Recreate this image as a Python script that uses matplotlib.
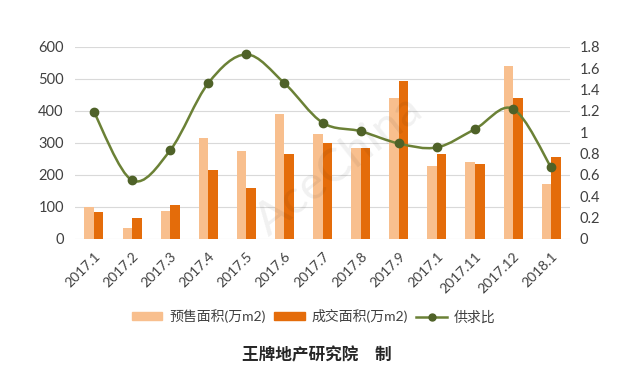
import matplotlib
matplotlib.use("Agg")
import matplotlib.pyplot as plt
import numpy as np
from matplotlib.path import Path
from matplotlib.patches import PathPatch
from matplotlib.lines import Line2D
from matplotlib.patches import Patch

plt.rcParams['font.family'] = ['Lato', 'Noto Sans CJK SC', 'DejaVu Sans']

categories = ["2017.1", "2017.2", "2017.3", "2017.4", "2017.5", "2017.6", "2017.7",
              "2017.8", "2017.9", "2017.1", "2017.11", "2017.12", "2018.1"]
presale = [100, 34, 87, 314, 275, 390, 328, 285, 440, 229, 240, 540, 172]
deal = [84, 64, 107, 215, 158, 266, 300, 283, 493, 266, 233, 441, 257]
ratio = [1.19, 0.55, 0.83, 1.46, 1.73, 1.46, 1.09, 1.01, 0.895, 0.858, 1.03, 1.22, 0.67]

c_pre = "#F8BF8E"
c_deal = "#E46C0A"
c_line = "#6B8136"
c_mark = "#4F6228"

fig = plt.figure(figsize=(6.4, 3.67), dpi=100)
ax = fig.add_axes([0.117, 0.349, 0.774, 0.523])
ax2 = ax.twinx()

x = np.arange(len(categories))
w = 0.25
ax.bar(x - w / 2, presale, width=w, color=c_pre, zorder=2)
ax.bar(x + w / 2, deal, width=w, color=c_deal, zorder=2)

ax.set_ylim(0, 600)
ax.set_yticks(np.arange(0, 601, 100))
ax.set_xlim(-0.5, len(categories) - 0.5)
ax.grid(axis='y', color='#D9D9D9', linewidth=0.8, zorder=0)
ax.set_axisbelow(True)
for s in ax.spines.values():
    s.set_visible(False)
for s in ax2.spines.values():
    s.set_visible(False)
ax.tick_params(axis='y', length=0, labelsize=10.5, colors='#404040', pad=8)
ax.tick_params(axis='x', length=0, colors='#404040', pad=8)
ax.set_xticks(x)
ax.set_xticklabels(categories, rotation=45, ha='right', rotation_mode='anchor', fontsize=10)

ax2.set_ylim(0, 1.8)
ax2.set_yticks([0, 0.2, 0.4, 0.6, 0.8, 1, 1.2, 1.4, 1.6, 1.8])
ax2.set_yticklabels(["0", "0.2", "0.4", "0.6", "0.8", "1", "1.2", "1.4", "1.6", "1.8"])
ax2.tick_params(axis='y', length=0, labelsize=10.5, colors='#404040', pad=7)

# smoothed line (Catmull-Rom style Bezier, like a spreadsheet smoothed line)
pts = np.column_stack([x, ratio]).astype(float)
verts = [tuple(pts[0])]
codes = [Path.MOVETO]
n = len(pts)
t = 1 / 6
for i in range(n - 1):
    p0 = pts[i - 1] if i > 0 else pts[i]
    p1 = pts[i]
    p2 = pts[i + 1]
    p3 = pts[i + 2] if i + 2 < n else pts[i + 1]
    c1 = p1 + (p2 - p0) * t
    c2 = p2 - (p3 - p1) * t
    verts += [tuple(c1), tuple(c2), tuple(p2)]
    codes += [Path.CURVE4] * 3
ax2.add_patch(PathPatch(Path(verts, codes), facecolor='none', edgecolor=c_line, linewidth=1.8, zorder=3))
ax2.plot(x, ratio, linestyle='none', marker='o', markersize=6, color=c_mark, zorder=4)

# watermark
fig.text(0.53, 0.55, "AceChina", fontsize=34, color='#000000', alpha=0.06,
         rotation=38, ha='center', va='center')

handles = [Patch(color=c_pre), Patch(color=c_deal),
           Line2D([0], [0], color=c_line, marker='o', markersize=5,
                  markerfacecolor=c_mark, markeredgecolor=c_mark, linewidth=1.8)]
labels = ["预售面积(万m2)", "成交面积(万m2)", "供求比"]
fig.legend(handles, labels, loc='center', bbox_to_anchor=(0.49, 0.138), ncol=3, frameon=False,
           fontsize=10, handlelength=2.2, handleheight=0.5, columnspacing=0.6, handletextpad=0.5,
           labelcolor='#404040')

fig.text(0.495, 0.032, "王牌地产研究院\u3000制", fontsize=12, fontweight='bold', color='#262626',
         ha='center', va='center', family=['Noto Sans CJK SC', 'DejaVu Sans'])

fig.savefig("out.png", dpi=100)
